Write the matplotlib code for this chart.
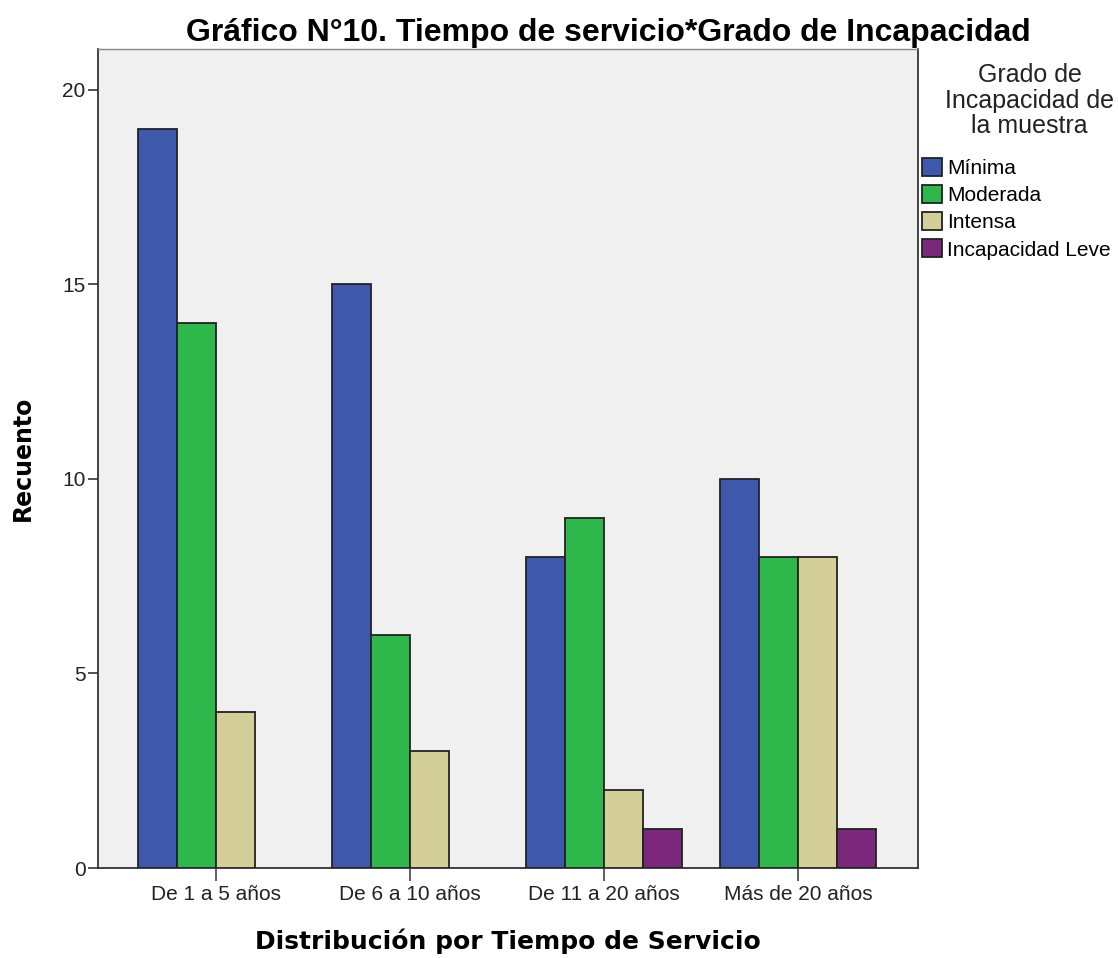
import matplotlib
matplotlib.use('Agg')
import matplotlib.pyplot as plt
import numpy as np

categories = ['De 1 a 5 años', 'De 6 a 10 años', 'De 11 a 20 años', 'Más de 20 años']
series = ['Mínima', 'Moderada', 'Intensa', 'Incapacidad Leve']
minima = [19, 15, 8, 10]
moderada = [14, 6, 9, 8]
intensa = [4, 3, 2, 8]
leve = [0, 0, 1, 1]
colors = ['#3e58ac', '#2eb84b', '#d4cf99', '#7b287c']

plt.rcParams['font.family'] = ['Liberation Sans', 'DejaVu Sans']

fig = plt.figure(figsize=(11.18, 9.58), dpi=100)
ax = fig.add_axes([0.0877, 0.0939, 0.7334, 0.855])
ax.set_facecolor('#f0f0f0')

x = np.arange(len(categories))
width = 0.201
offsets = [-1.5, -0.5, 0.5, 1.5]
handles = []
for vals, off, col in zip([minima, moderada, intensa, leve], offsets, colors):
    vals = np.array(vals, dtype=float)
    mask = vals > 0  # no bar drawn for empty cells
    ax.bar(x[mask] + off * width, vals[mask], width=width, color=col,
           edgecolor='#222222', linewidth=1.3, zorder=3)
    handles.append(plt.Rectangle((0, 0), 1, 1, facecolor=col, edgecolor='#222222', linewidth=1.3))

ax.set_xlim(-0.608, 3.619)
ax.set_ylim(0, 21.05)
ax.set_yticks([0, 5, 10, 15, 20])
ax.set_xticks(x)
ax.set_xticklabels(categories, fontsize=15, color='#222222')
ax.tick_params(axis='y', labelsize=15, length=7.5, width=1.2, colors='#333333', labelcolor='#222222', pad=1.5)
ax.tick_params(axis='x', length=9, width=1.2, colors='#444444', labelcolor='#222222', pad=3.5)

for s in ['left', 'bottom', 'right']:
    ax.spines[s].set_color('#333333')
    ax.spines[s].set_linewidth(1.3)
ax.spines['top'].set_color('#888888')
ax.spines['top'].set_linewidth(1.0)

ax.set_ylabel('Recuento', fontsize=17, fontweight='bold', family='DejaVu Sans', labelpad=20)
ax.set_xlabel('Distribución por Tiempo de Servicio', fontsize=18, fontweight='bold',
              family='DejaVu Sans', labelpad=17)
fig.text(0.544, 0.966, 'Gráfico N°10. Tiempo de servicio*Grado de Incapacidad',
         ha='center', va='center', fontsize=23, fontweight='bold')

fig.text(0.921, 0.895, 'Grado de\nIncapacidad de\nla muestra', ha='center', va='center',
         fontsize=18, color='#222222', linespacing=1.08)
fig.legend(handles, series, loc='upper left', bbox_to_anchor=(0.8247, 0.835),
           frameon=False, fontsize=15, handlelength=0.96, handleheight=0.96,
           handletextpad=0.25, labelspacing=0.33, borderaxespad=0, borderpad=0)

fig.savefig('out.png', dpi=100)
